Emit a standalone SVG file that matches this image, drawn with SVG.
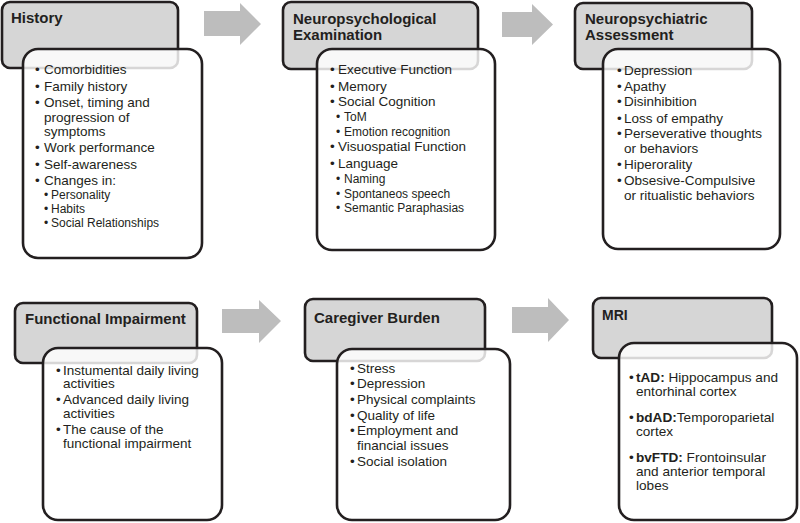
<svg xmlns="http://www.w3.org/2000/svg" width="800" height="523" viewBox="0 0 800 523">
<style>
.hd{fill:#d6d6d6;stroke:#231f20;stroke-width:2.6}
.bd{fill:#ffffff;fill-opacity:0.82;stroke:#231f20;stroke-width:2.6}
.ar{fill:#bdbdbd}
text{font-family:"Liberation Sans",Arial,sans-serif;fill:#231f20}
.t{font-size:15px;font-weight:bold}
.i{font-size:13.5px}
.s{font-size:12px}
.m{font-size:13.6px}
.b{font-weight:bold}
</style>
<rect width="800" height="523" fill="#ffffff"/>
<g id="connectors">
<polygon class="ar" points="204,11 240,11 240,3 261,24 240,45 240,36 204,36"/>
<polygon class="ar" points="502,12 532,12 532,4 553,24.5 532,45 532,37 502,37"/>
<polygon class="ar" points="222,309 259,309 259,300 281,321 259,343 259,333 222,333"/>
<polygon class="ar" points="512,307 548,307 548,298 569,320 548,342 548,333 512,333"/>
</g>
<g id="history">
<rect class="hd" x="2" y="2" width="176" height="66" rx="8"/>
<rect class="bd" x="23" y="49" width="179" height="209" rx="15"/>
<text class="t" x="11" y="23">History</text>
<g class="i">
<text x="35" y="74">•</text><text x="44" y="74">Comorbidities</text>
<text x="35" y="90.5">•</text><text x="44" y="90.5">Family history</text>
<text x="35" y="107">•</text><text x="44" y="107">Onset, timing and</text>
<text x="44" y="121.5">progression of</text>
<text x="44" y="135.5">symptoms</text>
<text x="35" y="152">•</text><text x="44" y="152">Work performance</text>
<text x="35" y="168.5">•</text><text x="44" y="168.5">Self-awareness</text>
<text x="35" y="185">•</text><text x="44" y="185">Changes in:</text>
</g>
<g class="s">
<text x="44" y="198.5">•</text><text x="51" y="198.5">Personality</text>
<text x="44" y="213">•</text><text x="51" y="213">Habits</text>
<text x="44" y="227">•</text><text x="51" y="227">Social Relationships</text>
</g>
</g>
<g id="neuropsychological">
<rect class="hd" x="283" y="2" width="195" height="67" rx="8"/>
<rect class="bd" x="317" y="49" width="178" height="201" rx="15"/>
<text class="t" x="293" y="24">Neuropsychological</text>
<text class="t" x="293" y="40">Examination</text>
<g class="i">
<text x="330" y="73.5">•</text><text x="338" y="73.5">Executive Function</text>
<text x="330" y="90.5">•</text><text x="338" y="90.5">Memory</text>
<text x="330" y="106">•</text><text x="338" y="106">Social Cognition</text>
<text x="330" y="151">•</text><text x="338" y="151">Visuospatial Function</text>
<text x="330" y="167.5">•</text><text x="338" y="167.5">Language</text>
</g>
<g class="s">
<text x="336" y="121">•</text><text x="344" y="121">ToM</text>
<text x="336" y="135.5">•</text><text x="344" y="135.5">Emotion recognition</text>
<text x="336" y="183">•</text><text x="344" y="183">Naming</text>
<text x="336" y="197.5">•</text><text x="344" y="197.5">Spontaneos speech</text>
<text x="336" y="212">•</text><text x="344" y="212">Semantic Paraphasias</text>
</g>
</g>
<g id="neuropsychiatric">
<rect class="hd" x="575" y="3" width="177" height="66" rx="8"/>
<rect class="bd" x="603" y="49" width="177" height="200" rx="15"/>
<text class="t" x="585" y="24">Neuropsychiatric</text>
<text class="t" x="585" y="40">Assessment</text>
<g class="i">
<text x="617" y="74.5">•</text><text x="624" y="74.5">Depression</text>
<text x="617" y="90.5">•</text><text x="624" y="90.5">Apathy</text>
<text x="617" y="106">•</text><text x="624" y="106">Disinhibition</text>
<text x="617" y="122.5">•</text><text x="624" y="122.5">Loss of empathy</text>
<text x="617" y="138">•</text><text x="624" y="138">Perseverative thoughts</text>
<text x="624" y="152.5">or behaviors</text>
<text x="617" y="168.5">•</text><text x="624" y="168.5">Hiperorality</text>
<text x="617" y="185">•</text><text x="624" y="185">Obsesive-Compulsive</text>
<text x="624" y="199.5">or ritualistic behaviors</text>
</g>
</g>
<g id="functional">
<rect class="hd" x="15" y="303" width="182" height="60" rx="8"/>
<rect class="bd" x="43" y="348" width="179" height="172" rx="15"/>
<text class="t" x="25" y="324">Functional Impairment</text>
<g class="i">
<text x="56" y="374.5">•</text><text x="63" y="374.5">Instumental daily living</text>
<text x="63" y="388">activities</text>
<text x="56" y="403.5">•</text><text x="63" y="403.5">Advanced daily living</text>
<text x="63" y="417.5">activities</text>
<text x="56" y="433.5">•</text><text x="63" y="433.5">The cause of the</text>
<text x="63" y="447.5">functional impairment</text>
</g>
</g>
<g id="caregiver">
<rect class="hd" x="305" y="299" width="180" height="62" rx="8"/>
<rect class="bd" x="337" y="349" width="173" height="171" rx="15"/>
<text class="t" x="314" y="323">Caregiver Burden</text>
<g class="i">
<text x="350" y="372.5">•</text><text x="357" y="372.5">Stress</text>
<text x="350" y="388">•</text><text x="357" y="388">Depression</text>
<text x="350" y="404">•</text><text x="357" y="404">Physical complaints</text>
<text x="350" y="419.5">•</text><text x="357" y="419.5">Quality of life</text>
<text x="350" y="435">•</text><text x="357" y="435">Employment and</text>
<text x="357" y="449.5">financial issues</text>
<text x="350" y="466">•</text><text x="357" y="466">Social isolation</text>
</g>
</g>
<g id="mri">
<rect class="hd" x="593" y="298" width="179" height="60" rx="8"/>
<rect class="bd" x="619" y="343" width="178" height="177" rx="15"/>
<text class="t" x="602" y="319.5" style="font-size:14px">MRI</text>
<g class="m">
<text x="629" y="382">•</text><text x="636" y="382"><tspan class="b">tAD:</tspan> Hippocampus and</text>
<text x="636" y="396">entorhinal cortex</text>
<text x="629" y="422">•</text><text x="636" y="422"><tspan class="b">bdAD:</tspan>Temporoparietal</text>
<text x="636" y="436">cortex</text>
<text x="629" y="462">•</text><text x="636" y="462"><tspan class="b">bvFTD:</tspan> Frontoinsular</text>
<text x="636" y="476">and anterior temporal</text>
<text x="636" y="490">lobes</text>
</g>
</g>
</svg>
